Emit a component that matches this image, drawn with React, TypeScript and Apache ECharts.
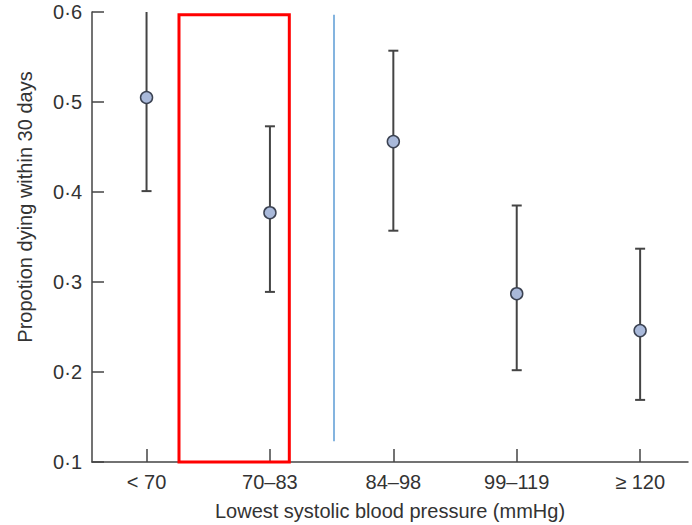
import React, { useEffect, useRef } from "react";
import * as echarts from "echarts";

const categories = ["< 70", "70–83", "84–98", "99–119", "≥ 120"];
const positions = [1, 2, 3, 4, 5];
const estimate = [0.505, 0.377, 0.456, 0.287, 0.246];
const lower = [0.401, 0.289, 0.357, 0.202, 0.169];
const upper = [0.62, 0.473, 0.557, 0.385, 0.337];
const yTicks = [0.1, 0.2, 0.3, 0.4, 0.5, 0.6];

const INK = "#333333";
const FONT = "'Liberation Sans', Arial, Helvetica, sans-serif";

export default function App() {
  const ref = useRef<HTMLDivElement>(null);

  useEffect(() => {
    if (!ref.current) return;
    const chart = echarts.init(ref.current, null, { renderer: "svg" });

    const errData = positions.map((p, i) => [p, lower[i], upper[i]]);
    const pointData = positions.map((p, i) => [p, estimate[i]]);

    chart.setOption({
      animation: false,
      backgroundColor: "#ffffff",
      textStyle: { fontFamily: FONT },
      grid: {
        left: 92,
        right: 4,
        top: 12,
        bottom: 63,
        containLabel: false,
        outerBoundsMode: "none",
      },
      xAxis: {
        type: "value",
        min: 0.558,
        max: 5.388,
        name: "Lowest systolic blood pressure (mmHg)",
        nameLocation: "middle",
        nameGap: 39,
        nameTextStyle: { fontSize: 20, color: INK, fontFamily: FONT },
        axisLine: { show: true, lineStyle: { color: "#444444", width: 1.5 } },
        axisTick: {
          show: true,
          inside: true,
          length: 13,
          customValues: positions,
          lineStyle: { color: "#444444", width: 1.5 },
        },
        axisLabel: {
          customValues: positions,
          fontSize: 20,
          color: INK,
          margin: 10,
          fontFamily: FONT,
          formatter: (v: number) => categories[Math.round(v) - 1] ?? "",
        },
        splitLine: { show: false },
      },
      yAxis: {
        type: "value",
        min: 0.1,
        max: 0.6,
        interval: 0.1,
        name: "Propotion dying within 30 days",
        nameLocation: "middle",
        nameGap: 57,
        nameTextStyle: {
          fontSize: 20,
          color: INK,
          fontFamily: FONT,
          padding: [0, 0, 0, 60],
        },
        axisLine: { show: true, lineStyle: { color: "#444444", width: 1.5 } },
        axisTick: {
          show: true,
          inside: true,
          length: 12,
          customValues: yTicks,
          lineStyle: { color: "#444444", width: 1.5 },
        },
        axisLabel: {
          customValues: yTicks,
          fontSize: 20,
          color: INK,
          margin: 10,
          fontFamily: FONT,
          formatter: (v: number) => v.toFixed(1).replace(".", "·"),
        },
        splitLine: { show: false },
      },
      series: [
        {
          type: "custom",
          clip: true,
          z: 3,
          silent: true,
          data: errData,
          renderItem: (params: any, api: any) => {
            const x = api.value(0);
            const lo = api.coord([x, api.value(1)]);
            const hi = api.coord([x, api.value(2)]);
            const cap = 5;
            const style = { stroke: "#444444", lineWidth: 2 };
            return {
              type: "group",
              children: [
                { type: "line", shape: { x1: lo[0], y1: lo[1], x2: hi[0], y2: hi[1] }, style },
                { type: "line", shape: { x1: lo[0] - cap, y1: lo[1], x2: lo[0] + cap, y2: lo[1] }, style },
                { type: "line", shape: { x1: hi[0] - cap, y1: hi[1], x2: hi[0] + cap, y2: hi[1] }, style },
              ],
            };
          },
        },
        {
          type: "scatter",
          z: 5,
          silent: true,
          symbol: "circle",
          symbolSize: 12,
          data: pointData,
          itemStyle: {
            color: "#a9b9da",
            borderColor: "#3b4252",
            borderWidth: 1.5,
            opacity: 1,
          },
          markArea: {
            silent: true,
            itemStyle: {
              color: "rgba(0,0,0,0)",
              borderColor: "#ff0000",
              borderWidth: 3,
            },
            label: { show: false },
            data: [[{ xAxis: 1.263, yAxis: 0.597 }, { xAxis: 2.157, yAxis: 0.1 }]],
          },
          markLine: {
            silent: true,
            symbol: ["none", "none"],
            label: { show: false },
            lineStyle: { color: "#5b9bd5", width: 1.5, type: "solid" },
            data: [[{ coord: [2.514, 0.597] }, { coord: [2.514, 0.123] }]],
          },
        },
      ],
    });

    return () => chart.dispose();
  }, []);

  return (
    <div
      ref={ref}
      style={{ position: "fixed", left: 0, top: 0, width: 692, height: 525 }}
    />
  );
}
